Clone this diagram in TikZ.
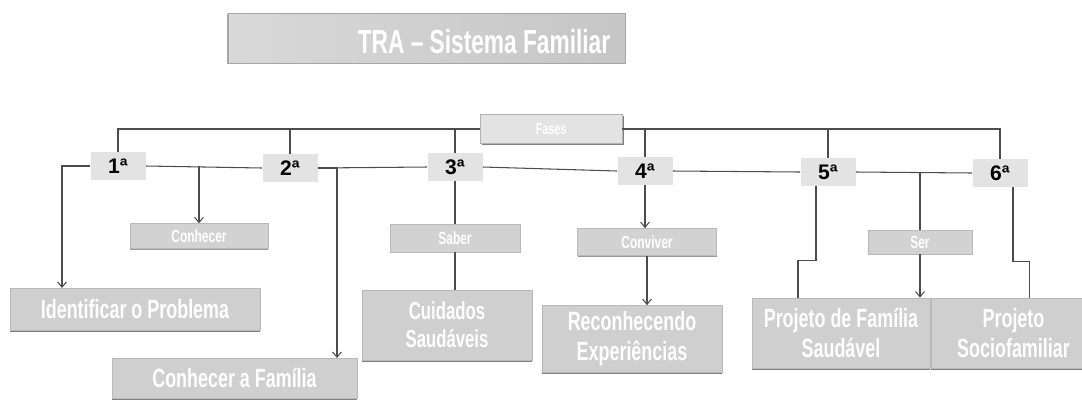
\documentclass[tikz,border=0pt]{standalone}
\usepackage{fontspec}
\setmainfont{Liberation Sans}
\newfontfamily\narrowfont[FakeStretch=0.68]{Liberation Sans}
\usetikzlibrary{shapes,arrows,arrows.meta,positioning,shadows}

\begin{document}
\begin{tikzpicture}[
    >={Straight Barb[length=3pt,width=5pt]},
    titlebox/.style={rectangle, left color=gray!30, right color=gray!45, draw=gray!70, minimum width=7.94cm, minimum height=1.0cm, drop shadow={shadow xshift=-0.6pt, shadow yshift=-0.8pt, fill=black!70}},
    fasebox/.style={rectangle, fill=gray!22, draw=gray!60, minimum width=2.84cm, minimum height=0.58cm, font=\narrowfont\small\bfseries, text=white, drop shadow={shadow xshift=1.2pt, shadow yshift=-0.6pt, fill=black}},
    stepbox/.style={rectangle, fill=gray!22, minimum width=1.1cm, minimum height=0.56cm, font=\large\bfseries, text=black},
    verbbox/.style={rectangle, fill=gray!35, draw=gray!55, minimum height=0.46cm, font=\narrowfont\normalsize\bfseries, text=white, drop shadow={shadow xshift=0pt, shadow yshift=-0.8pt, fill=black!80}},
    leafbox/.style={rectangle, fill=gray!38, draw=gray!55, align=center, font=\narrowfont\fontsize{15}{17}\selectfont\bfseries, text=white, drop shadow={shadow xshift=0pt, shadow yshift=-1pt, fill=black}},
    link/.style={draw=black!70, semithick},
    arrow/.style={->, draw=black!70, semithick}
]

% Page frame
\useasboundingbox (0,0) rectangle (21.64,-8.1);

% Diagram title
\node[titlebox] (titlebg) at (8.53,-0.76) {};
\node[font=\narrowfont\fontsize{19}{21}\selectfont\bfseries, text=white] (title) at (9.68,-0.84) {TRA – Sistema Familiar};

% Root node
\node[fasebox] (fases) at (11.02,-2.58) {Fases};

% Steps
\node[stepbox] (s1) at (2.36,-3.32) {1ª};
\node[stepbox] (s2) at (5.80,-3.36) {2ª};
\node[stepbox] (s3) at (9.10,-3.34) {3ª};
\node[stepbox] (s4) at (12.90,-3.42) {4ª};
\node[stepbox] (s5) at (16.56,-3.44) {5ª};
\node[stepbox] (s6) at (20.00,-3.46) {6ª};

% Verbs under the steps
\node[verbbox, minimum width=2.76cm] (conhecer) at (3.98,-4.72) {Conhecer};
\node[verbbox, minimum width=2.6cm, minimum height=0.56cm] (saber) at (9.10,-4.76) {Saber};
\node[verbbox, minimum width=2.78cm, minimum height=0.54cm] (conviver) at (12.94,-4.84) {Conviver};
\node[verbbox, minimum width=2.08cm, minimum height=0.4cm] (ser) at (18.40,-4.84) {Ser};

% Results
\node[leafbox, minimum width=5.0cm, minimum height=0.84cm] (ident) at (2.70,-6.18) {Identificar o Problema};
\node[leafbox, minimum width=4.9cm, minimum height=0.8cm] (familia) at (4.69,-7.56) {Conhecer a Família};
\node[leafbox, minimum width=3.4cm, minimum height=1.4cm, font=\narrowfont\fontsize{14}{16}\selectfont\bfseries] (cuidados) at (8.94,-6.5) {Cuidados\\Saudáveis};
\node[leafbox, minimum width=3.6cm, minimum height=1.34cm] (reconh) at (12.64,-6.78) {Reconhecendo\\Experiências};
\node[leafbox, minimum width=3.56cm, minimum height=1.4cm] (projfam) at (16.82,-6.66) {Projeto de Família\\Saudável};
\node[leafbox, minimum width=3.3cm, minimum height=1.4cm] (projsoc) at (20.27,-6.66) {Projeto\\Sociofamiliar};

% Entry points of the side branches
\coordinate (identin) at (1.24,-5.76);
\coordinate (famin) at (6.74,-7.16);

% Bus from the root to every step
\draw[link] (fases.west) -| (s1.north);
\draw[link] (s2.north) -- (s2.north |- fases.west);
\draw[link] (s3.north) -- (s3.north |- fases.west);
\draw[link] (fases.east) -| (s6.north);
\draw[link] (s4.north) -- (s4.north |- fases.east);
\draw[link] (s5.north) -- (s5.north |- fases.east);

% Chain between the steps
\draw[link] (s1.east) -- (s2.west);
\draw[link] (s2.east) -- (s3.west);
\draw[link] (s3.east) -- (s4.west);
\draw[link] (s4.east) -- (s5.west);
\draw[link] (s5.east) -- (s6.west);

% 1st and 2nd steps
\draw[arrow] (conhecer.north |- s1.east) -- (conhecer.north);
\draw[arrow] (s1.west) -| (identin);
\draw[arrow] (s2.east) -| (famin);

% 3rd and 4th steps
\draw[link] (s3.south) -- (saber.north);
\draw[link] (saber.south) -- (saber.south |- cuidados.north);
\draw[arrow] (s4.south) -- (s4.south |- conviver.north);
\draw[arrow] (conviver.south) -- (conviver.south |- reconh.north);

% 5th and 6th steps
\draw[link] (ser.north |- s5.east) -- (ser.north);
\draw[arrow] (ser.south) -- (ser.south |- projfam.north);
\draw[link] ([xshift=-0.24cm]s5.south) -- ++(0,-1.48) -| ([xshift=-0.86cm]projfam.north);
\draw[link] ([xshift=0.26cm]s6.south) -- ++(0,-1.48) -| ([xshift=0.32cm]projsoc.north);

\end{tikzpicture}
\end{document}
